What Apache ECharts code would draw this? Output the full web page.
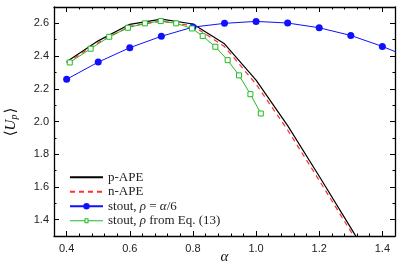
<!DOCTYPE html>
<html><head><meta charset="utf-8">
<script src="https://cdn.jsdelivr.net/npm/echarts@6/dist/echarts.min.js"></script>
<style>html,body{margin:0;padding:0;background:#fff}#c{width:397px;height:266px}</style>
</head><body><div id="c"></div>
<script>
// ---- data ----
const alphaAPE = [0.4, 0.5, 0.6, 0.7, 0.8, 0.9, 1.0, 1.1, 1.2, 1.3, 1.4];
const pAPE = [2.365, 2.493, 2.594, 2.626, 2.596, 2.475, 2.253, 1.975, 1.665, 1.35, 1.03];
const nAPE = [2.358, 2.482, 2.582, 2.613, 2.585, 2.458, 2.228, 1.948, 1.64, 1.328, 1.01];
const alphaStout6 = [0.4, 0.5, 0.6, 0.7, 0.8, 0.9, 1.0, 1.1, 1.2, 1.3, 1.4, 1.5];
const stout6 = [2.258, 2.363, 2.451, 2.521, 2.577, 2.600, 2.612, 2.602, 2.573, 2.526, 2.459, 2.38];
const alphaStoutEq = [0.41, 0.476, 0.535, 0.594, 0.648, 0.698, 0.747, 0.797, 0.831, 0.871, 0.910, 0.946, 0.982, 1.015];
const stoutEq = [2.361, 2.445, 2.518, 2.573, 2.600, 2.614, 2.600, 2.569, 2.522, 2.457, 2.375, 2.282, 2.167, 2.049];
const xMajor = [0.4, 0.6, 0.8, 1.0, 1.2, 1.4];
const yMajor = [1.4, 1.6, 1.8, 2.0, 2.2, 2.4, 2.6];
const seriesNames = ['p-APE', 'n-APE', 'stout, ρ = α/6', 'stout, ρ from Eq. (13)'];

const pairs = (xs, ys) => xs.map((x, i) => [x, ys[i]]);
const SERIF = '"Liberation Serif", "DejaVu Serif", serif';
const SANS = '"Liberation Sans", Arial, sans-serif';

function xAx(pos, major, showLabel) {
  const a = {
    type: 'value', position: pos, min: 0.36, max: 1.44,
    splitLine: {show: false},
    axisLine: {show: major, onZero: false, lineStyle: {color: '#000', width: 1.3}},
    axisTick: {show: true, inside: true, length: major ? 5 : 2.5, lineStyle: {color: '#000', width: 1}},
    axisLabel: {show: false}
  };
  if (major) {
    a.axisTick.customValues = xMajor;
    a.axisLabel = {show: showLabel, customValues: xMajor, formatter: v => v.toFixed(1),
      fontFamily: SANS, fontSize: 11, color: '#222', margin: 7};
  } else {
    a.interval = 0.04;
  }
  return a;
}
function yAx(pos, major, showLabel) {
  const a = {
    type: 'value', position: pos, min: 1.3, max: 2.7,
    splitLine: {show: false},
    axisLine: {show: major, onZero: false, lineStyle: {color: '#000', width: 1.3}},
    axisTick: {show: true, inside: true, length: major ? 5 : 2.5, lineStyle: {color: '#000', width: 1}},
    axisLabel: {show: false}
  };
  if (major) {
    a.axisTick.customValues = yMajor;
    a.axisLabel = {show: showLabel, customValues: yMajor, formatter: v => v.toFixed(1),
      fontFamily: SANS, fontSize: 11, color: '#222', margin: 5};
  } else {
    a.interval = 0.1;
  }
  return a;
}

const legendRich = {
  t: {fontFamily: SERIF, fontSize: 13, color: '#222', lineHeight: 14.5},
  i: {fontFamily: SERIF, fontSize: 13, fontStyle: 'italic', color: '#222', lineHeight: 14.5}
};
const legendFmt = {
  'p-APE': '{t|p-APE}',
  'n-APE': '{t|n-APE}',
  'stout, ρ = α/6': '{t|stout, }{i|ρ}{t| = }{i|α}{t|/6}',
  'stout, ρ from Eq. (13)': '{t|stout, }{i|ρ}{t| from Eq. (13)}'
};
// legend glyph for the green series: a line through a hollow square
const greenIcon = 'path://M0,4.5H14.5V2.5H18.5V4.5H33V5.5H18.5V7.5H14.5V5.5H0Z M15.5,3.5V6.5H17.5V3.5Z';

const chart = echarts.init(document.getElementById('c'), null, {renderer: 'canvas'});
chart.setOption({
  animation: false,
  backgroundColor: '#fff',
  grid: {left: 54, right: 2, top: 7, bottom: 30, containLabel: false, outerBoundsMode: 'none'},
  xAxis: [xAx('bottom', true, true), xAx('bottom', false, false), xAx('top', true, false), xAx('top', false, false)],
  yAxis: [yAx('left', true, true), yAx('left', false, false), yAx('right', true, false), yAx('right', false, false)],
  legend: {
    orient: 'vertical', left: 64, top: 165, itemWidth: 33, itemHeight: 8, itemGap: 0,
    data: [
      {name: seriesNames[0], itemStyle: {opacity: 0}},
      {name: seriesNames[1], itemStyle: {opacity: 0}},
      {name: seriesNames[2]},
      {name: seriesNames[3], icon: greenIcon, itemStyle: {color: '#22bb22', borderWidth: 0}}
    ],
    formatter: n => legendFmt[n],
    textStyle: {rich: legendRich, lineHeight: 14.5, fontFamily: SERIF, fontSize: 13}
  },
  graphic: [{
    type: 'text', x: 11, y: 122, rotation: Math.PI / 2,
    style: {
      text: '{a|⟨}{u|U}{s|p}{a|⟩}', align: 'center', verticalAlign: 'middle',
      rich: {
        a: {fontFamily: SERIF, fontSize: 15, fill: '#111'},
        u: {fontFamily: SERIF, fontSize: 15, fontStyle: 'italic', fill: '#111'},
        s: {fontFamily: SERIF, fontSize: 10, fontStyle: 'italic', fill: '#111', padding: [6, 1, 0, 0]}
      }
    }
  }, {
    type: 'text', x: 224.5, y: 257,
    style: {text: 'α', align: 'center', verticalAlign: 'middle',
      font: 'italic 15px "Liberation Serif", serif', fill: '#111'}
  }],
  series: [
    {name: seriesNames[0], type: 'line', data: pairs(alphaAPE, pAPE), showSymbol: false, symbol: 'none',
      lineStyle: {color: '#000', width: 1.2}, itemStyle: {color: '#000'}, z: 3},
    {name: seriesNames[1], type: 'line', data: pairs(alphaAPE, nAPE), showSymbol: false, symbol: 'none',
      lineStyle: {color: '#ff3030', width: 1.2, type: [5, 4]}, itemStyle: {color: '#ff3030'}, z: 4},
    {name: seriesNames[2], type: 'line', data: pairs(alphaStout6, stout6), symbol: 'circle', symbolSize: 7,
      lineStyle: {color: '#1010ff', width: 1}, itemStyle: {color: '#1010ff'}, z: 5},
    {name: seriesNames[3], type: 'line', data: pairs(alphaStoutEq, stoutEq), symbol: 'rect', symbolSize: 5,
      lineStyle: {color: '#22bb22', width: 1}, itemStyle: {color: '#fff', borderColor: '#22bb22', borderWidth: 1}, z: 6}
  ]
});
</script></body></html>
